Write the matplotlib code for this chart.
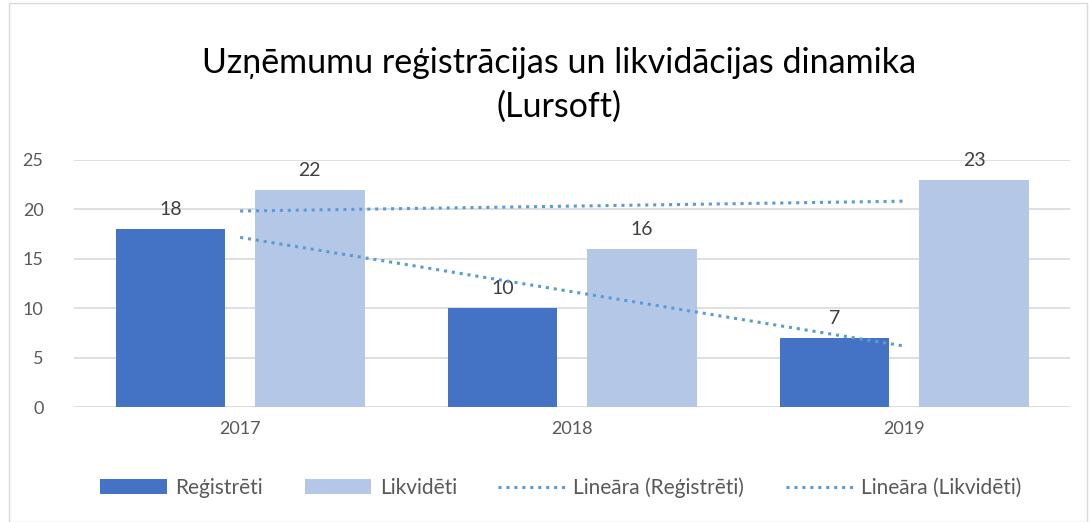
import numpy as np
import matplotlib.pyplot as plt
from matplotlib.patches import Rectangle

plt.rcParams['font.family'] = ['Lato', 'DejaVu Sans']

years = ["2017", "2018", "2019"]
registreti = [18, 10, 7]
likvideti = [22, 16, 23]

text_col = "#595959"
fig = plt.figure(figsize=(10.89, 5.22), dpi=100)
fig.patches.append(Rectangle((0.008, 0.0), 0.99, 0.995, transform=fig.transFigure,
                             fill=False, edgecolor="#d9d9d9", lw=1))
ax = fig.add_axes([0.068, 0.2203, 0.915, 0.4732])

x = np.arange(len(years))
w = 0.33
b1 = ax.bar(x - 0.21, registreti, w, color="#4472C4", label="Reģistrēti", zorder=2)
b2 = ax.bar(x + 0.21, likvideti, w, color="#B4C7E7", label="Likvidēti", zorder=2)

for bars in (b1, b2):
    for r in bars:
        ax.annotate(str(int(r.get_height())), (r.get_x() + r.get_width() / 2, r.get_height()),
                    xytext=(0, 8), textcoords="offset points", ha="center", va="bottom",
                    fontsize=14, color="#404040")

# linear trendlines like Excel
lines = []
for vals, name in ((registreti, "Reģistrēti"), (likvideti, "Likvidēti")):
    k, c = np.polyfit(x, vals, 1)
    ln, = ax.plot(x, k * x + c, ls=(0, (1, 1.6)), lw=2.2, color="#5B9BD5",
                  label=f"Lineāra ({name})", zorder=3)
    lines.append(ln)

ax.set_xlim(-0.5, 2.5)
ax.set_ylim(0, 25)
ax.set_yticks(range(0, 26, 5))
ax.set_xticks(x, years)
ax.grid(axis="y", color="#d9d9d9", lw=1.2, zorder=0)
for s in ax.spines.values():
    s.set_visible(False)
ax.tick_params(length=0, labelsize=13, colors=text_col)
ax.tick_params(axis="y", pad=22)
ax.tick_params(axis="x", pad=10)

fig.text(0.513, 0.838, "Uzņēmumu reģistrācijas un likvidācijas dinamika\n(Lursoft)",
         ha="center", va="center", fontsize=24.5, color="black", linespacing=1.45)

fig.legend([b1, b2] + lines, [b1.get_label(), b2.get_label()] + [l.get_label() for l in lines],
           loc="lower center", bbox_to_anchor=(0.515, 0.01), ncol=4, frameon=False,
           fontsize=15, labelcolor=text_col, handlelength=3.2, columnspacing=2.0,
           handletextpad=0.4)

fig.savefig("out.png", dpi=100)
